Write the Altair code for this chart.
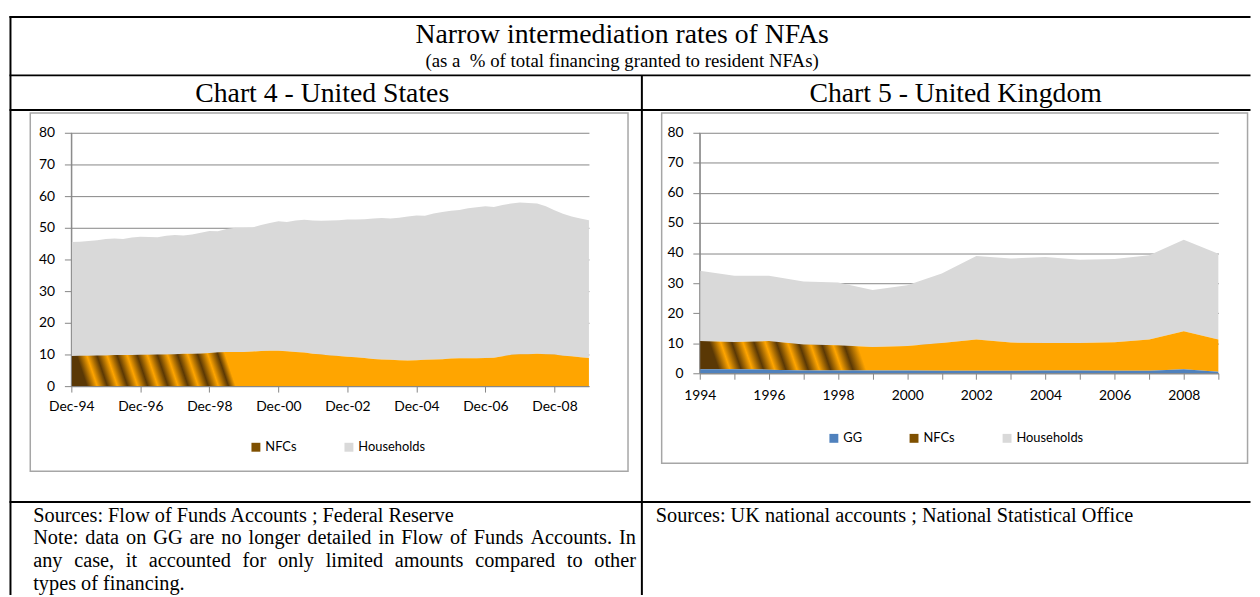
import altair as alt
import pandas as pd

# ---------------- data ----------------
us_quarters = pd.date_range("1994-12-01", periods=61, freq="3MS")  # Dec-94 .. Dec-09
us_nfcs = [9.5, 9.6, 9.6, 9.7, 9.7, 9.8, 9.8, 9.8, 9.9, 9.9, 10.0, 10.0, 10.1, 10.2, 10.2, 10.3,
           10.5, 10.7, 10.8, 10.8, 10.8, 10.9, 11.1, 11.2, 11.2, 11.0, 10.8, 10.6, 10.2, 10.0, 9.7,
           9.5, 9.3, 9.1, 8.9, 8.6, 8.4, 8.3, 8.2, 8.1, 8.2, 8.3, 8.4, 8.5, 8.7, 8.8, 8.8, 8.8, 8.9,
           9.0, 9.4, 9.9, 10.1, 10.1, 10.2, 10.1, 10.0, 9.6, 9.4, 9.1, 8.9]
us_households = [36.0, 36.0, 36.2, 36.4, 36.8, 36.8, 36.7, 37.1, 37.3, 37.2, 37.0, 37.5, 37.6, 37.4,
                 37.7, 38.1, 38.5, 38.2, 38.8, 39.2, 39.2, 39.2, 39.8, 40.3, 40.9, 40.8, 41.5, 41.9,
                 42.1, 42.2, 42.6, 42.9, 43.3, 43.5, 43.8, 44.3, 44.7, 44.6, 45.0, 45.5, 45.7, 45.5,
                 46.1, 46.5, 46.7, 46.8, 47.4, 47.7, 47.9, 47.6, 47.8, 47.8, 47.9, 47.7, 47.5, 46.7,
                 45.5, 44.8, 44.2, 43.8, 43.5]

uk_years = list(range(1994, 2010))
uk_gg = [1.3, 1.3, 1.2, 0.9, 0.9, 0.9, 0.9, 0.8, 0.8, 0.8, 0.9, 0.9, 0.8, 0.8, 1.3, 0.5]
uk_nfcs = [9.4, 9.1, 9.5, 8.7, 8.4, 7.8, 8.2, 9.3, 10.4, 9.4, 9.2, 9.2, 9.5, 10.4, 12.7, 10.7]
uk_households = [23.4, 22.0, 21.7, 20.9, 20.9, 19.0, 20.2, 23.1, 27.8, 28.0, 28.6, 27.7, 27.7, 28.1,
                 30.4, 28.6]

us_tick_years = [1994, 1996, 1998, 2000, 2002, 2004, 2006, 2008]
uk_tick_years = list(range(1994, 2010))
y_ticks = [0, 10, 20, 30, 40, 50, 60, 70, 80]

title_text = "Narrow intermediation rates of NFAs"
subtitle_text = "(as a \u00a0% of total financing granted to resident NFAs)"
us_header = "Chart 4 - United States"
uk_header = "Chart 5 - United Kingdom"
us_notes = ["Sources: Flow of Funds Accounts ; Federal Reserve",
            "Note: data on GG are no longer detailed in Flow of Funds Accounts. In",
            "any case, it accounted for only limited amounts compared to other",
            "types of financing."]
us_notes_justified = [False, True, True, False]
uk_notes = ["Sources: UK national accounts ; National Statistical Office"]

us_legend = ["NFCs", "Households"]
uk_legend = ["GG", "NFCs", "Households"]

# ---------------- styles ----------------
HH = "#d9d9d9"
ORANGE = "#ffa500"
BROWN = "#7f5000"
DARK = "#5a3805"
BLUE = "#4f81bd"
GRID = "#868686"
FRAME = "#a6a6a6"
SERIF = "Liberation Serif"
SANS = "Lato"
NOTE_SIZE = 20.5

LW, LH = 523, 256      # left plot area
RW, RH = 524, 243      # right plot area
SPACING = 112
LOX, LOY = 70.5, 130.0
ROX, ROY = LOX + LW + SPACING, 130.0

# Times / Liberation Serif advance widths (per 1000 em), used to justify note lines
TIMES = {" ": 250, ",": 250, ".": 250, ":": 278, ";": 278, "-": 333,
         "A": 722, "C": 667, "F": 556, "G": 722, "I": 333, "N": 722, "S": 556,
         "a": 444, "b": 500, "c": 444, "d": 500, "e": 444, "f": 333, "g": 500, "h": 500,
         "i": 278, "j": 278, "k": 500, "l": 278, "m": 778, "n": 500, "o": 500, "p": 500,
         "q": 500, "r": 333, "s": 389, "t": 278, "u": 500, "v": 500, "w": 722, "x": 500,
         "y": 500, "z": 444}

one = pd.DataFrame({"a": [0]})


def stripes(start, period, n, end, k):
    stops = []
    for i in range(n):
        o = start + i * period
        stops.append(alt.GradientStop(color=DARK, offset=round(o, 4)))
        if i < n - 1:
            stops.append(alt.GradientStop(color=ORANGE, offset=round(o + period * 0.5, 4)))
    stops.append(alt.GradientStop(color=ORANGE, offset=round(end, 4)))
    stops.append(alt.GradientStop(color=ORANGE, offset=1))
    return alt.LinearGradient(gradient="linear", stops=stops, x1=0, y1=k, x2=1, y2=0)


def rule(x0, y0, x1, y1, ox, oy, color="black", w=2):
    return alt.Chart(one).mark_rule(color=color, strokeWidth=w).encode(
        x=alt.value(x0 - ox), x2=alt.value(x1 - ox), y=alt.value(y0 - oy), y2=alt.value(y1 - oy))


def frame(x0, y0, x1, y1, ox, oy):
    return alt.Chart(one).mark_rect(fillOpacity=0, stroke=FRAME, strokeWidth=1.5).encode(
        x=alt.value(x0 - ox), x2=alt.value(x1 - ox), y=alt.value(y0 - oy), y2=alt.value(y1 - oy))


def label(text, px, py, ox, oy, size, align="left", font=SERIF):
    return alt.Chart(pd.DataFrame({"t": [text]})).mark_text(
        align=align, baseline="alphabetic", font=font, fontSize=size, color="black").encode(
        text="t:N", x=alt.value(px - ox), y=alt.value(py - oy))


def justified(line, x0, x1, py, ox, oy, size):
    words = line.split(" ")
    widths = [sum(TIMES.get(c, 500) for c in w) / 1000 * size for w in words]
    gap = (x1 - x0 - sum(widths)) / (len(words) - 1)
    out, x = [], x0
    for w, wd in zip(words, widths):
        out.append(label(w, x, py, ox, oy, size))
        x += wd + gap
    return out


def legend_layer(names, colors, lx, ly):
    return alt.Chart(pd.DataFrame({"series": names})).transform_filter("false").mark_square().encode(
        color=alt.Color("series:N", scale=alt.Scale(domain=names, range=colors),
                        legend=alt.Legend(orient="none", legendX=lx, legendY=ly, direction="horizontal",
                                          title=None, symbolType="square", symbolSize=81,
                                          symbolStrokeWidth=0, symbolOpacity=1, labelFont=SANS,
                                          labelFontSize=13, labelColor="black", columnPadding=46,
                                          labelOffset=3, padding=0)))


y_axis = alt.Axis(values=y_ticks, grid=True, gridColor=GRID, gridWidth=1, domainColor=GRID,
                  tickColor=GRID, tickSize=7, labelPadding=10, labelFont=SANS, labelFontSize=14,
                  labelColor="black", title=None, zindex=0)
y_scale = alt.Scale(domain=[0, 80], nice=False, zero=True)

# ---------------- left panel: United States ----------------
us_df = pd.DataFrame({"date": us_quarters, "nfcs": us_nfcs, "households": us_households})
us_base = alt.Chart(us_df).transform_calculate(
    nfc_top="datum.nfcs", hh_top="datum.nfcs + datum.households", zero="0")
x_us = alt.X("date:T",
             scale=alt.Scale(domain=[alt.DateTime(year=1994, month=12, date=1),
                                     alt.DateTime(year=2009, month=12, date=1)]),
             axis=alt.Axis(values=[alt.DateTime(year=y, month=12, date=1) for y in us_tick_years],
                           format="%b-%y", grid=False, domainColor=GRID, tickColor=GRID, tickSize=6,
                           labelPadding=8, labelFont=SANS, labelFontSize=14, labelColor="black",
                           title=None, zindex=1, labelFlush=False, labelOverlap=False))
us_hh = us_base.mark_area(color=HH).encode(
    x=x_us, y=alt.Y("hh_top:Q", scale=y_scale, axis=y_axis), y2="nfc_top:Q")
us_nfc = us_base.mark_area(color=stripes(0.008, 0.039, 8, 0.295, 0.023)).encode(
    x=x_us, y=alt.Y("nfc_top:Q", scale=y_scale, axis=y_axis), y2="zero:Q")
us_yline = alt.Chart(one).mark_rule(color=GRID).encode(x=alt.value(0), y=alt.value(0), y2=alt.value(LH))

left_decor = [
    rule(8, 13, 1262, 13, LOX, LOY),
    rule(8, 72, 1262, 72, LOX, LOY),
    rule(8, 107, 1262, 107, LOX, LOY),
    rule(8, 503, 1262, 503, LOX, LOY),
    rule(9, 12, 9, 597, LOX, LOY),
    rule(647, 72, 647, 597, LOX, LOY),
    frame(29, 110, 633, 472, LOX, LOY),
    label(title_text, 627, 39, LOX, LOY, 28, "center"),
    label(subtitle_text, 627, 64, LOX, LOY, 19, "center"),
    label(us_header, 324, 99, LOX, LOY, 28, "center"),
]
for i, (line, just) in enumerate(zip(us_notes, us_notes_justified)):
    if just:
        left_decor.extend(justified(line, 32, 641, 523 + 23 * i, LOX, LOY, NOTE_SIZE))
    else:
        left_decor.append(label(line, 32, 523 + 23 * i, LOX, LOY, NOTE_SIZE))

left = alt.layer(us_hh, us_nfc, us_yline,
                 legend_layer(us_legend, [BROWN, HH], 180, 311),
                 *left_decor).properties(width=LW, height=LH)

# ---------------- right panel: United Kingdom ----------------
uk_df = pd.DataFrame({"year": uk_years, "gg": uk_gg, "nfcs": uk_nfcs, "households": uk_households})
uk_base = alt.Chart(uk_df).transform_calculate(
    gg_top="datum.gg", nfc_top="datum.gg + datum.nfcs",
    hh_top="datum.gg + datum.nfcs + datum.households", zero="0")
x_uk = alt.X("year:Q", scale=alt.Scale(domain=[1994, 2009], nice=False, zero=False),
             axis=alt.Axis(values=uk_tick_years, format="d",
                           labelExpr="datum.value % 2 == 0 ? datum.label : ''",
                           grid=False, domainColor=GRID, tickColor=GRID, tickSize=6, labelPadding=10,
                           labelFont=SANS, labelFontSize=14, labelColor="black", title=None,
                           zindex=1, labelFlush=False, labelOverlap=False))
uk_hh = uk_base.mark_area(color=HH).encode(
    x=x_uk, y=alt.Y("hh_top:Q", scale=y_scale, axis=y_axis), y2="nfc_top:Q")
uk_nfc = uk_base.mark_area(color=stripes(0.012, 0.043, 7, 0.296, 0.027)).encode(
    x=x_uk, y=alt.Y("nfc_top:Q", scale=y_scale, axis=y_axis), y2="gg_top:Q")
uk_gg_area = uk_base.mark_area(color=BLUE).encode(
    x=x_uk, y=alt.Y("gg_top:Q", scale=y_scale, axis=y_axis), y2="zero:Q")
uk_yline = alt.Chart(one).mark_rule(color=GRID).encode(x=alt.value(0), y=alt.value(0), y2=alt.value(RH))

right_decor = [
    frame(667, 110, 1259, 464, ROX, ROY),
    label(uk_header, 964, 99, ROX, ROY, 28, "center"),
    label(uk_notes[0], 661, 523, ROX, ROY, NOTE_SIZE),
]

right = alt.layer(uk_hh, uk_nfc, uk_gg_area, uk_yline,
                  legend_layer(uk_legend, [BLUE, BROWN, HH], 129, 302),
                  *right_decor).properties(width=RW, height=RH)

chart = alt.hconcat(left, right, spacing=SPACING, bounds="flush").resolve_scale(
    color="independent", x="independent", y="independent").resolve_legend(color="independent").properties(
    padding={"left": 0, "top": 4, "right": 0, "bottom": 0}).configure_view(stroke=None)

chart.save("out.html", embed_options={"renderer": "svg", "actions": False})
